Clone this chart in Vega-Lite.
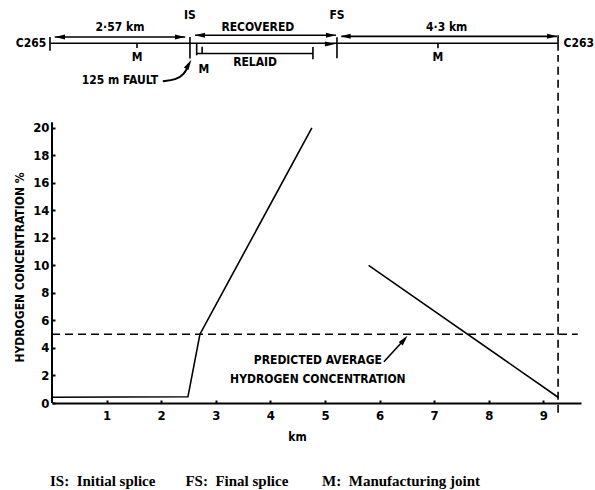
{
  "$schema": "https://vega.github.io/schema/vega-lite/v6.json",
  "width": 529,
  "height": 399,
  "autosize": {"type": "none"},
  "padding": {"left": 52, "top": 4, "right": 14, "bottom": 87},
  "background": "white",
  "config": {
    "view": {"stroke": null},
    "font": "DejaVu Sans Condensed",
    "axis": {"grid": false, "labelColor": "black", "titleColor": "black", "labelOverlap": false}
  },
  "title": {
    "text": "IS:\u00a0 Initial splice\u00a0\u00a0\u00a0\u00a0\u00a0\u00a0\u00a0 FS:\u00a0 Final splice\u00a0\u00a0\u00a0\u00a0\u00a0\u00a0\u00a0\u00a0 M:\u00a0 Manufacturing joint",
    "orient": "bottom",
    "anchor": "start",
    "frame": "group",
    "dx": -2,
    "offset": 32,
    "font": "Liberation Serif",
    "fontSize": 15,
    "fontWeight": "bold",
    "color": "black"
  },
  "datasets": {
    "h2": [
      {"series": "near", "km": 0, "pct": 0.42},
      {"series": "near", "km": 2.49, "pct": 0.45},
      {"series": "near", "km": 2.71, "pct": 5.0},
      {"series": "near", "km": 4.76, "pct": 20},
      {"series": "far", "km": 5.8, "pct": 10},
      {"series": "far", "km": 9.27, "pct": 0.42}
    ],
    "avg": [
      {"km": 0, "pct": 5},
      {"km": 9.63, "pct": 5}
    ],
    "segments": [
      {"part": "cable", "x1": -0.03, "x2": 9.27, "y1": 26.15, "y2": 26.15},
      {"part": "2.57 km arrow", "x1": 0.05, "x2": 2.44, "y1": 26.6, "y2": 26.6},
      {"part": "recovered arrow", "x1": 2.62, "x2": 5.2, "y1": 26.73, "y2": 26.73},
      {"part": "4.3 km arrow", "x1": 5.3, "x2": 9.25, "y1": 26.65, "y2": 26.65},
      {"part": "relaid", "x1": 2.65, "x2": 4.78, "y1": 25.4, "y2": 25.4},
      {"part": "C265", "x1": -0.037, "x2": -0.037, "y1": 26.6, "y2": 25.6},
      {"part": "IS", "x1": 2.527, "x2": 2.527, "y1": 26.6, "y2": 25.03},
      {"part": "IS relaid", "x1": 2.65, "x2": 2.65, "y1": 26.15, "y2": 25.27},
      {"part": "relaid end", "x1": 4.78, "x2": 4.78, "y1": 25.88, "y2": 24.98},
      {"part": "FS", "x1": 5.22, "x2": 5.22, "y1": 26.58, "y2": 25.05},
      {"part": "C263", "x1": 9.27, "x2": 9.27, "y1": 26.73, "y2": 25.6},
      {"part": "M1", "x1": 1.557, "x2": 1.557, "y1": 26.15, "y2": 25.8},
      {"part": "M2", "x1": 2.75, "x2": 2.75, "y1": 25.9, "y2": 25.4},
      {"part": "M3", "x1": 7.07, "x2": 7.07, "y1": 26.15, "y2": 25.78},
      {"part": "pred arrow", "x1": 6.08, "x2": 6.45, "y1": 3.0, "y2": 4.6}
    ],
    "heads": [
      {"dir": "left", "km": 0.147, "v": 26.6},
      {"dir": "right", "km": 2.344, "v": 26.6},
      {"dir": "left", "km": 2.71, "v": 26.73},
      {"dir": "right", "km": 5.11, "v": 26.73},
      {"dir": "right", "km": 5.09, "v": 26.1},
      {"dir": "left", "km": 5.38, "v": 26.65},
      {"dir": "right", "km": 9.16, "v": 26.65}
    ],
    "fault": [
      {"i": 0, "km": 2.03, "v": 23.38},
      {"i": 1, "km": 2.27, "v": 23.49},
      {"i": 2, "km": 2.42, "v": 23.89},
      {"i": 3, "km": 2.5, "v": 24.5}
    ],
    "labels": [
      {"text": "2·57 km", "km": 1.245, "v": 27.31},
      {"text": "IS", "km": 2.527, "v": 28.18},
      {"text": "RECOVERED", "km": 3.77, "v": 27.31},
      {"text": "FS", "km": 5.22, "v": 28.18},
      {"text": "4·3 km", "km": 7.23, "v": 27.31},
      {"text": "C265", "km": -0.385, "v": 26.15},
      {"text": "C263", "km": 9.65, "v": 26.15},
      {"text": "M", "km": 1.557, "v": 25.12},
      {"text": "M", "km": 2.78, "v": 24.25},
      {"text": "M", "km": 7.07, "v": 25.12},
      {"text": "RELAID", "km": 3.72, "v": 24.76},
      {"text": "125 m  FAULT", "km": 1.245, "v": 23.45},
      {"text": "PREDICTED AVERAGE", "km": 4.87, "v": 3.09},
      {"text": "HYDROGEN CONCENTRATION", "km": 4.87, "v": 1.78}
    ]
  },
  "layer": [
    {
      "data": {"name": "h2"},
      "mark": {"type": "line", "color": "black", "strokeWidth": 1.6},
      "encoding": {
        "x": {
          "field": "km", "type": "quantitative",
          "scale": {"domain": [0, 9.69], "nice": false, "zero": false},
          "axis": {
            "values": [1, 2, 3, 4, 5, 6, 7, 8, 9],
            "tickCount": 20,
            "format": "d",
            "labelOverlap": false,
            "domainColor": "black", "domainWidth": 2,
            "tickColor": "black", "tickSize": -3, "tickWidth": 2,
            "labelPadding": 9,
            "labelFont": "DejaVu Sans Condensed", "labelFontSize": 13, "labelFontWeight": "bold",
            "title": "km",
            "titleFont": "DejaVu Sans Condensed", "titleFontSize": 12, "titleFontWeight": "bold",
            "titleX": 245, "titleY": 33, "titleBaseline": "middle"
          }
        },
        "y": {
          "field": "pct", "type": "quantitative",
          "scale": {"domain": [0, 29], "nice": false, "zero": false},
          "axis": {
            "values": [0, 2, 4, 6, 8, 10, 12, 14, 16, 18, 20],
            "tickCount": 20,
            "format": "d",
            "labelOverlap": false,
            "domain": false,
            "tickColor": "black", "tickSize": -3, "tickWidth": 2,
            "labelPadding": 6,
            "labelFont": "DejaVu Sans Condensed", "labelFontSize": 13, "labelFontWeight": "bold",
            "title": "HYDROGEN CONCENTRATION %",
            "titleFont": "DejaVu Sans Condensed", "titleFontSize": 12, "titleFontWeight": "bold",
            "titleX": -33, "titleY": 263, "titleBaseline": "middle", "titleAngle": -90
          }
        },
        "detail": {"field": "series"}
      }
    },
    {
      "data": {"values": [{"km": 0, "lo": 0, "hi": 20.4}]},
      "mark": {"type": "rule", "color": "black", "strokeWidth": 2},
      "encoding": {
        "x": {"field": "km", "type": "quantitative"},
        "y": {"field": "lo", "type": "quantitative"},
        "y2": {"field": "hi"}
      }
    },
    {
      "data": {"name": "avg"},
      "mark": {"type": "line", "color": "black", "strokeWidth": 1.6, "strokeDash": [8, 5]},
      "encoding": {
        "x": {"field": "km", "type": "quantitative"},
        "y": {"field": "pct", "type": "quantitative"}
      }
    },
    {
      "data": {"values": [{"km": 9.27, "lo": -0.7, "hi": 25.3}]},
      "mark": {"type": "rule", "color": "black", "strokeWidth": 1.6, "strokeDash": [8, 5]},
      "encoding": {
        "x": {"field": "km", "type": "quantitative"},
        "y": {"field": "lo", "type": "quantitative"},
        "y2": {"field": "hi"}
      }
    },
    {
      "data": {"name": "segments"},
      "mark": {"type": "rule", "color": "black", "strokeWidth": 1.6},
      "encoding": {
        "x": {"field": "x1", "type": "quantitative"},
        "x2": {"field": "x2"},
        "y": {"field": "y1", "type": "quantitative"},
        "y2": {"field": "y2"}
      }
    },
    {
      "data": {"name": "heads"},
      "transform": [{"filter": "datum.dir === 'right'"}],
      "mark": {"type": "point", "shape": "M1,0L-1,-0.5L-1,0.5Z", "filled": true, "color": "black", "opacity": 1, "size": 100},
      "encoding": {
        "x": {"field": "km", "type": "quantitative"},
        "y": {"field": "v", "type": "quantitative"}
      }
    },
    {
      "data": {"name": "heads"},
      "transform": [{"filter": "datum.dir === 'left'"}],
      "mark": {"type": "point", "shape": "M-1,0L1,-0.5L1,0.5Z", "filled": true, "color": "black", "opacity": 1, "size": 100},
      "encoding": {
        "x": {"field": "km", "type": "quantitative"},
        "y": {"field": "v", "type": "quantitative"}
      }
    },
    {
      "data": {"name": "fault"},
      "mark": {"type": "line", "color": "black", "strokeWidth": 2, "interpolate": "basis"},
      "encoding": {
        "x": {"field": "km", "type": "quantitative"},
        "y": {"field": "v", "type": "quantitative"},
        "order": {"field": "i"}
      }
    },
    {
      "data": {"values": [{"km": 2.505, "v": 24.62}]},
      "mark": {"type": "point", "shape": "M0,-1L0.5,1L-0.5,1Z", "filled": true, "color": "black", "opacity": 1, "size": 110, "angle": 30},
      "encoding": {
        "x": {"field": "km", "type": "quantitative"},
        "y": {"field": "v", "type": "quantitative"}
      }
    },
    {
      "data": {"values": [{"km": 6.45, "v": 4.6}]},
      "mark": {"type": "point", "shape": "M0,-1L0.5,1L-0.5,1Z", "filled": true, "color": "black", "opacity": 1, "size": 110, "angle": 40},
      "encoding": {
        "x": {"field": "km", "type": "quantitative"},
        "y": {"field": "v", "type": "quantitative"}
      }
    },
    {
      "data": {"name": "labels"},
      "mark": {"type": "text", "color": "black", "font": "DejaVu Sans Condensed", "fontSize": 12, "fontWeight": "bold", "align": "center", "baseline": "middle"},
      "encoding": {
        "x": {"field": "km", "type": "quantitative"},
        "y": {"field": "v", "type": "quantitative"},
        "text": {"field": "text"}
      }
    }
  ]
}
